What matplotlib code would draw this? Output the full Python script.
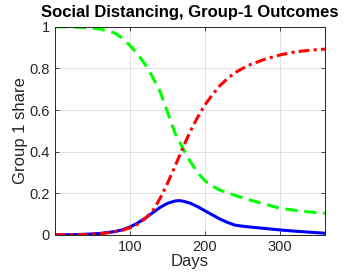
import matplotlib
matplotlib.use('Agg')
import matplotlib.pyplot as plt

plt.rcParams['font.family'] = ['Liberation Sans', 'DejaVu Sans']

# 天數與各群比例
days = [0, 20, 40, 60, 80, 90, 100, 110, 120, 130, 140, 150, 160, 165, 170,
        180, 190, 200, 210, 220, 230, 240, 250, 260, 280, 300, 320, 340, 360]
susceptible = [1.0, 1.0, 0.997, 0.99, 0.97, 0.945, 0.91, 0.87, 0.82, 0.76, 0.69,
               0.59, 0.49, 0.455, 0.42, 0.355, 0.30, 0.26, 0.235, 0.215, 0.203,
               0.19, 0.179, 0.168, 0.148, 0.128, 0.118, 0.11, 0.104]
infected = [0.0, 0.001, 0.003, 0.007, 0.016, 0.025, 0.038, 0.057, 0.08, 0.106,
            0.132, 0.152, 0.163, 0.165, 0.163, 0.153, 0.136, 0.116, 0.096, 0.076,
            0.06, 0.047, 0.042, 0.038, 0.031, 0.024, 0.018, 0.013, 0.008]
recovered = [0.0, 0.0, 0.002, 0.006, 0.015, 0.023, 0.034, 0.052, 0.078, 0.113,
             0.175, 0.248, 0.33, 0.372, 0.415, 0.495, 0.565, 0.625, 0.675, 0.718,
             0.752, 0.78, 0.8, 0.818, 0.845, 0.865, 0.88, 0.888, 0.893]

fig = plt.figure(figsize=(3.48, 2.8), dpi=100)
ax = fig.add_axes([0.158, 0.161, 0.776, 0.743])

ax.plot(days, susceptible, color=(0, 1, 0), linestyle='--', linewidth=2.2, dashes=(4, 2.2))
ax.plot(days, infected, color=(0, 0, 1), linestyle='-', linewidth=2.2)
ax.plot(days, recovered, color=(1, 0, 0), linestyle='-.', linewidth=2.2, dashes=(3.5, 1.4, 1.0, 1.4))

ax.set_xlim(0, 360)
ax.set_ylim(0, 1)
ax.set_xticks([100, 200, 300])
ax.set_yticks([0, 0.2, 0.4, 0.6, 0.8, 1])
ax.set_yticklabels(['0', '0.2', '0.4', '0.6', '0.8', '1'])
ax.grid(True, color='#dcdcdc', linewidth=0.6)
ax.set_axisbelow(True)
ax.tick_params(direction='in', top=True, right=True, length=3, width=0.6,
               labelsize=10.5, colors='#262626')
for s in ax.spines.values():
    s.set_linewidth(0.7)
    s.set_color('#262626')

ax.set_title('Social Distancing, Group-1 Outcomes', fontsize=12, fontweight='bold', pad=7)
ax.set_xlabel('Days', fontsize=12, color='#262626', labelpad=0)
ax.set_ylabel('Group 1 share', fontsize=12, color='#262626', labelpad=1)

fig.savefig('out.png', dpi=100)
